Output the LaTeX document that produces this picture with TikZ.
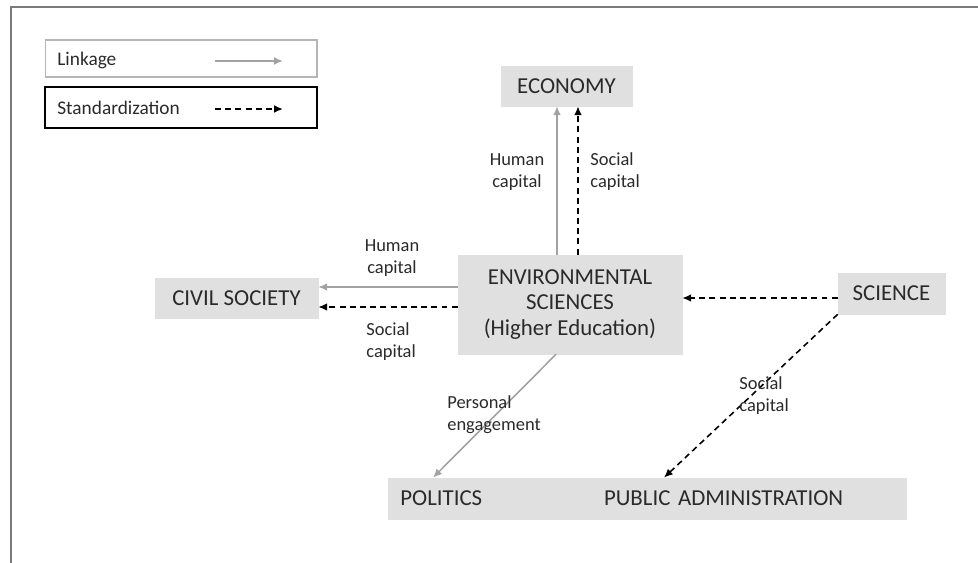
\documentclass[tikz,border=0pt]{standalone}
\usepackage{fontspec}
\setmainfont{Carlito}
\usetikzlibrary{arrows.meta}
\definecolor{boxgray}{HTML}{E0E0E0}
\definecolor{linkgray}{HTML}{A2A2A2}
\definecolor{framegray}{HTML}{7A7A7A}
\definecolor{textgray}{HTML}{2A2A2A}
\begin{document}
\begin{tikzpicture}[x=0.02cm,y=-0.02cm,
    sector/.style={fill=boxgray,draw=boxgray,line width=0.4pt,text=textgray,inner sep=0pt,font=\fontsize{13}{14.5}\selectfont},
    lbl/.style={text=textgray,inner sep=0pt,font=\fontsize{10.5}{12.6}\selectfont},
    link/.style={draw=linkgray,line width=0.9pt,-{Latex[length=5pt,width=4.4pt]}},
    standard/.style={draw=black,line width=0.9pt,dash pattern=on 3.4pt off 2.4pt,-{Latex[length=5pt,width=4.4pt]}}]
    \useasboundingbox (0,0) rectangle (978,563);
    % frame
    \draw[framegray,line width=1.2pt] (11,563) -- (11,7) -- (978,7);

    % legend
    \node[draw=linkgray!80,line width=0.6pt,minimum width=5.44cm,minimum height=0.74cm,inner sep=0pt] (linkbox) at (181,58.5) {};
    \node[draw=black,line width=0.8pt,minimum width=5.44cm,minimum height=0.82cm,inner sep=0pt] (stdbox) at (181,107.5) {};
    \node[lbl,anchor=west,font=\fontsize{11}{13}\selectfont] (linktext) at (57,60) {Linkage};
    \node[lbl,anchor=west,font=\fontsize{11}{13}\selectfont] (stdtext) at (57,108) {Standardization};
    \coordinate (linkA) at (215,61);
    \coordinate (linkB) at (283,61);
    \coordinate (stdA) at (215,109);
    \coordinate (stdB) at (283,109);
    \draw[link] (linkA) -- (linkB);
    \draw[standard] (stdA) -- (stdB);

    % sectors
    \node[sector,minimum width=2.62cm,minimum height=0.8cm] (economy) at (566.5,86) {ECONOMY};
    \node[sector,minimum width=4.48cm,minimum height=1.98cm,align=center] (envsci) at (570,304.5)
        {ENVIRONMENTAL\\SCIENCES\\(Higher Education)};
    \node[sector,minimum width=3.26cm,minimum height=0.8cm] (civil) at (236.5,298) {CIVIL SOCIETY};
    \node[sector,minimum width=2.14cm,minimum height=0.82cm] (science) at (891.5,293.5) {SCIENCE};
    \node[sector,anchor=west,minimum height=0.82cm,inner xsep=0.24cm,text width=3.72cm,align=left] (politics) at (388,498.5) {POLITICS};
    \node[sector,anchor=west,minimum height=0.82cm,inner xsep=0.1cm,text width=5.94cm,align=left] (admin) at (politics.east) {PUBLIC ADMINISTRATION};

    % connectors
    \draw[link] ([xshift=-0.26cm]envsci.north) -- ([xshift=-0.26cm]envsci.north |- economy.south);
    \draw[standard] ([xshift=0.16cm]envsci.north) -- ([xshift=0.16cm]envsci.north |- economy.south);
    \draw[link] ([yshift=0.35cm]envsci.west) -- ([yshift=0.35cm]envsci.west -| civil.east);
    \draw[standard] ([yshift=-0.05cm]envsci.west) -- ([yshift=-0.05cm]envsci.west -| civil.east);
    \draw[standard] ([yshift=-0.09cm]science.west) -- ([yshift=-0.09cm]science.west -| envsci.east);
    \draw[standard] (science.south west) -- ([xshift=-1.77cm]admin.north);
    \draw[link] ([xshift=-0.28cm]envsci.south) -- ([xshift=0.9cm]politics.north west);

    % labels
    \node[lbl,align=center] (humeco) at (517,172) {Human\\capital};
    \node[lbl,align=left,anchor=west] (soceco) at (590,172) {Social\\capital};
    \node[lbl,align=center] (humciv) at (392,258) {Human\\capital};
    \node[lbl,align=left,anchor=west] (socciv) at (366,342) {Social\\capital};
    \node[lbl,align=left,anchor=west] (persen) at (447,415) {Personal\\engagement};
    \node[lbl,align=left,anchor=west] (socsci) at (739,396) {Social\\capital};
\end{tikzpicture}
\end{document}
